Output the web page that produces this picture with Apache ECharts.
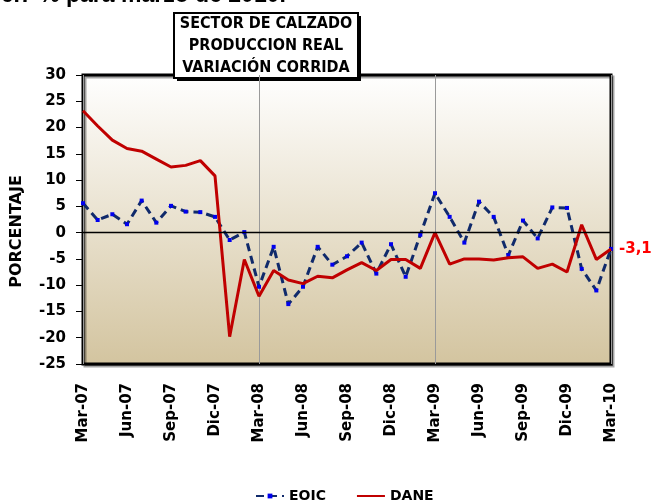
<!DOCTYPE html>
<html>
<head>
<meta charset="utf-8">
<script src="https://cdn.jsdelivr.net/npm/echarts@6/dist/echarts.min.js"></script>
<style>
  html, body { margin: 0; padding: 0; background: #fff; }
  #main { width: 652px; height: 501px; }
</style>
</head>
<body>
<div id="main"></div>
<script>
var meses = ['Mar-07','Abr-07','May-07','Jun-07','Jul-07','Ago-07','Sep-07','Oct-07','Nov-07','Dic-07','Ene-08','Feb-08',
             'Mar-08','Abr-08','May-08','Jun-08','Jul-08','Ago-08','Sep-08','Oct-08','Nov-08','Dic-08','Ene-09','Feb-09',
             'Mar-09','Abr-09','May-09','Jun-09','Jul-09','Ago-09','Sep-09','Oct-09','Nov-09','Dic-09','Ene-10','Feb-10',
             'Mar-10'];
var eoic = [5.6, 2.4, 3.5, 1.6, 6.1, 1.9, 5.1, 4.0, 3.9, 3.0, -1.4, 0.1,
            -10.3, -2.7, -13.6, -10.3, -2.7, -6.1, -4.5, -1.9, -7.8, -2.2, -8.4, -0.4,
            7.5, 3.0, -1.9, 5.9, 3.0, -4.3, 2.3, -1.1, 4.8, 4.7, -6.9, -11.0,
            -3.1];
var dane = [23.2, 20.3, 17.6, 16.0, 15.5, 14.0, 12.5, 12.8, 13.7, 10.8, -19.8, -5.1,
            -12.1, -7.2, -9.0, -9.7, -8.3, -8.6, -7.1, -5.7, -7.2, -5.1, -5.1, -6.8,
            0.0, -6.0, -5.0, -5.0, -5.2, -4.8, -4.6, -6.8, -6.0, -7.5, 1.5, -5.1,
            -3.1];
var titulo = ['SECTOR DE CALZADO', 'PRODUCCION REAL', 'VARIACIÓN CORRIDA'];
var textoArriba = '56.7 % para marzo de 2010.';
var etiquetaFinal = '-3,1';

var font = 'DejaVu Sans';

var myChart = echarts.init(document.getElementById('main'));

var option = {
    animation: false,
    backgroundColor: '#ffffff',
    grid: {
        left: 83, right: 41, top: 75, bottom: 137,
        outerBoundsMode: 'none',
        show: true,
        borderColor: '#000', borderWidth: 3,
        shadowColor: 'rgba(0,0,0,0.35)', shadowOffsetX: 2, shadowOffsetY: 2, shadowBlur: 0,
        backgroundColor: new echarts.graphic.LinearGradient(0, 0, 0, 1, [
            { offset: 0, color: '#ffffff' },
            { offset: 1, color: '#d3c49f' }
        ])
    },
    legend: {
        left: 250, top: 484,
        itemWidth: 28, itemHeight: 6, itemGap: 30,
        textStyle: { fontFamily: font, fontWeight: 'bold', fontSize: 14, color: '#000' },
        data: [
            { name: 'EOIC' },
            { name: 'DANE', itemStyle: { color: 'rgba(0,0,0,0)', borderWidth: 0 } }
        ]
    },
    xAxis: {
        type: 'category',
        data: meses,
        boundaryGap: false,
        axisLine: { show: false, onZero: false },
        axisTick: { show: false },
        axisLabel: {
            interval: 2, rotate: 90, margin: 19,
            fontFamily: font, fontWeight: 'bold', fontSize: 15, color: '#000'
        },
        splitLine: {
            show: true,
            interval: function (i) { return i % 12 === 0; },
            lineStyle: { color: '#9a9a9a', width: 1 }
        }
    },
    yAxis: {
        type: 'value',
        min: -25, max: 30, interval: 5,
        name: 'PORCENTAJE',
        nameLocation: 'middle', nameRotate: 90, nameGap: 58,
        nameTextStyle: { fontFamily: font, fontWeight: 'bold', fontSize: 16, color: '#000', padding: [0, 24, 0, 0] },
        axisLine: { show: false },
        axisTick: { show: true, length: 7, lineStyle: { color: '#000' } },
        axisLabel: { margin: 17, fontFamily: font, fontWeight: 'bold', fontSize: 15, color: '#000' },
        splitLine: { show: false }
    },
    series: [{
        name: 'EOIC',
        type: 'line',
        data: eoic,
        z: 3,
        symbol: 'rect', symbolSize: 4, showSymbol: true,
        itemStyle: { color: '#0000ee' },
        lineStyle: { color: '#102a6b', width: 3, type: [8, 5] }
    }, {
        name: 'DANE',
        type: 'line',
        data: dane,
        z: 4,
        symbol: 'none',
        itemStyle: { color: '#c00000' },
        lineStyle: { color: '#c00000', width: 3 },
        endLabel: {
            show: true, distance: 8,
            formatter: etiquetaFinal, color: '#ff0000',
            fontFamily: font, fontWeight: 'bold', fontSize: 15
        },
        markLine: {
            silent: true,
            symbol: ['none', 'none'],
            label: { show: false },
            lineStyle: { color: '#000000', width: 1.3, type: 'solid' },
            data: [{ yAxis: 0 }]
        }
    }],
    graphic: [{
        type: 'text',
        left: -12, top: -16,
        style: {
            text: textoArriba,
            font: 'bold 23px "Liberation Sans", Arial, sans-serif',
            fill: '#000'
        }
    }, {
        type: 'group',
        left: 173, top: 12,
        children: [{
            type: 'rect',
            shape: { x: 3, y: 3, width: 184, height: 65 },
            style: { fill: '#000' }
        }, {
            type: 'rect',
            shape: { x: 0, y: 0, width: 184, height: 65 },
            style: { fill: '#fff', stroke: '#000', lineWidth: 2 }
        }, {
            type: 'text',
            x: 92, y: 33,
            style: {
                text: titulo.join('\n'),
                align: 'center', verticalAlign: 'middle',
                lineHeight: 22,
                font: 'bold 16px "DejaVu Sans Condensed", "DejaVu Sans", sans-serif',
                fill: '#000'
            }
        }]
    }]
};

myChart.setOption(option, true);
</script>
</body>
</html>
